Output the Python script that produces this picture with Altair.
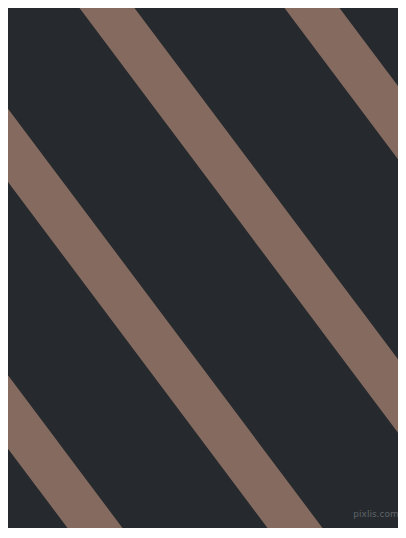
import altair as alt
import pandas as pd

# Reference image geometry (pixels) and page margin
REF_W, REF_H = 406, 538
MARGIN = 8
PLOT_W, PLOT_H = 390, 520

# Stripe data: x position of each stripe's centre line where y = 0,
# horizontal run per unit of vertical drop, and stripe thickness
stripe_x0 = [-301, -101, 101, 306]
slope = 0.75
stripe_thickness = 44

background_color = "#262a2e"
stripe_color = "#846a5f"

watermark_text = ["pixlis.com"]
watermark_x = [376]
watermark_y = [514]

rows = []
for i, c in enumerate(stripe_x0):
    for y in (-100, 700):
        rows.append({"stripe": i, "x": c + slope * y, "y": y})
stripes = pd.DataFrame(rows)

wm = pd.DataFrame({"x": watermark_x, "y": watermark_y, "t": watermark_text})

xs = alt.Scale(domain=[MARGIN, MARGIN + PLOT_W], nice=False, zero=False)
ys = alt.Scale(domain=[MARGIN, MARGIN + PLOT_H], nice=False, zero=False, reverse=True)

lines = alt.Chart(stripes).mark_line(
    clip=True, strokeWidth=stripe_thickness, strokeCap="butt", color=stripe_color
).encode(
    x=alt.X("x:Q", scale=xs, axis=None),
    y=alt.Y("y:Q", scale=ys, axis=None),
    detail="stripe:N",
)

text = alt.Chart(wm).mark_text(
    fontSize=9, font="DejaVu Sans", color="#5f6468", align="center", baseline="middle"
).encode(
    x=alt.X("x:Q", scale=xs, axis=None),
    y=alt.Y("y:Q", scale=ys, axis=None),
    text="t:N",
)

chart = (
    alt.layer(lines, text)
    .properties(
        width=PLOT_W,
        height=PLOT_H,
        padding=0,
        autosize=alt.AutoSizeParams(type="none"),
        background=background_color,
    )
    .configure_view(strokeWidth=0, fill=background_color)
)

chart.save("out.html", embed_options={"renderer": "svg", "actions": False})
